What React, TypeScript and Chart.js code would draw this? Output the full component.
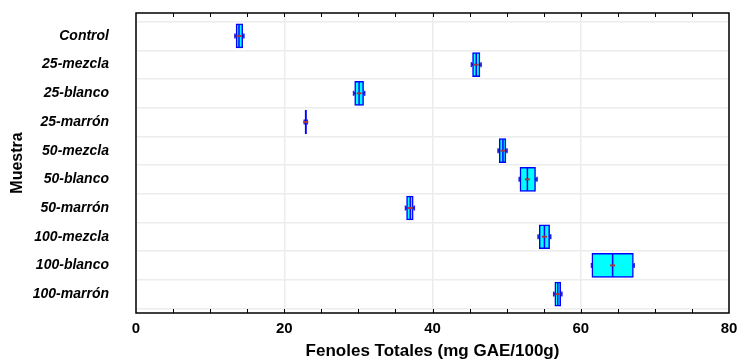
import React, { useEffect, useRef } from "react";
import { Chart, registerables } from "chart.js";

Chart.register(...registerables);

const categories = [
  "Control",
  "25-mezcla",
  "25-blanco",
  "25-marrón",
  "50-mezcla",
  "50-blanco",
  "50-marrón",
  "100-mezcla",
  "100-blanco",
  "100-marrón",
];
const boxLow = [13.5, 45.4, 29.5, 22.8, 49.0, 51.8, 36.5, 54.4, 61.5, 56.5];
const boxHigh = [14.4, 46.4, 30.7, 23.0, 49.9, 53.9, 37.4, 55.8, 67.1, 57.3];
const medians = [13.9, 45.9, 30.1, 22.9, 49.5, 52.8, 37.0, 55.1, 64.3, 56.9];
const whiskerLow = [13.35, 45.25, 29.35, 22.7, 48.85, 51.7, 36.35, 54.25, 61.45, 56.35];
const whiskerHigh = [14.55, 46.55, 30.85, 23.1, 50.05, 54.1, 37.55, 55.95, 67.2, 57.45];
const xTickValues = [0, 20, 40, 60, 80];
const minorTickValues = [5, 10, 15, 20, 25, 30, 35, 40, 45, 50, 55, 60, 65, 70, 75];

const FONT = 'Arial, "Liberation Sans", sans-serif';

const framePlugin = {
  id: "frame",
  afterDraw(chart: any) {
    const { ctx, chartArea: a, scales } = chart;
    ctx.save();
    ctx.strokeStyle = "#000";
    ctx.lineWidth = 1;
    ctx.beginPath();
    for (const v of minorTickValues) {
      const px = Math.round(scales.x.getPixelForValue(v)) + 0.5;
      ctx.moveTo(px, a.bottom);
      ctx.lineTo(px, a.bottom - 4);
      ctx.moveTo(px, a.top);
      ctx.lineTo(px, a.top + 4);
    }
    ctx.stroke();
    ctx.lineWidth = 1.5;
    ctx.strokeRect(a.left, a.top, a.right - a.left, a.bottom - a.top);
    ctx.restore();
  },
};

export default function App() {
  const ref = useRef<HTMLCanvasElement | null>(null);

  useEffect(() => {
    if (!ref.current) return;
    Chart.defaults.font.family = FONT;
    Chart.defaults.color = "#000";
    const idx = categories.map((_, i) => i);
    const chart = new Chart(ref.current, {
      type: "bar",
      data: {
        datasets: [
          {
            type: "scatter",
            label: "mean",
            data: idx.map((i) => ({ x: medians[i], y: i })),
            pointStyle: "line",
            rotation: 0,
            radius: 2.5,
            borderColor: "#A83838",
            borderWidth: 2,
            order: 0,
          } as any,
          {
            type: "scatter",
            label: "median",
            data: idx.map((i) => ({ x: medians[i], y: i })),
            pointStyle: "line",
            rotation: 90,
            radius: 11.5,
            borderColor: "#0000FF",
            borderWidth: 1.5,
            order: 1,
          } as any,
          {
            type: "scatter",
            label: "caps",
            data: [
              ...idx.map((i) => ({ x: whiskerLow[i], y: i })),
              ...idx.map((i) => ({ x: whiskerHigh[i], y: i })),
            ],
            pointStyle: "line",
            rotation: 90,
            radius: 2.5,
            borderColor: "#2020E0",
            borderWidth: 1.5,
            order: 1,
          } as any,
          {
            type: "bar",
            label: "box",
            indexAxis: "y",
            grouped: false,
            data: idx.map((i) => ({ x: [boxLow[i], boxHigh[i]], y: i })),
            barThickness: 24,
            backgroundColor: "#00FFFF",
            borderColor: "#0000FF",
            borderWidth: 1.5,
            borderSkipped: false,
            order: 3,
          } as any,
          {
            type: "bar",
            label: "whisker",
            indexAxis: "y",
            grouped: false,
            data: idx.map((i) => ({ x: [whiskerLow[i], whiskerHigh[i]], y: i })),
            barThickness: 2,
            backgroundColor: "#2020C0",
            borderWidth: 0,
            order: 4,
          } as any,
        ],
      },
      options: {
        animation: false,
        responsive: true,
        maintainAspectRatio: false,
        layout: { autoPadding: false, padding: { top: 13, right: 10, left: 0, bottom: 0 } },
        plugins: {
          legend: { display: false },
          tooltip: { enabled: false },
        },
        scales: {
          x: {
            type: "linear",
            position: "bottom",
            offset: false,
            min: 0,
            max: 80,
            afterBuildTicks: (s: any) => {
              s.ticks = xTickValues.map((v) => ({ value: v }));
            },
            afterFit: (s: any) => {
              s.height = 47;
              s.paddingLeft = 0;
              s.paddingRight = 0;
            },
            ticks: {
              padding: 7,
              autoSkip: false,
              maxRotation: 0,
              font: { size: 15, weight: "bold" },
              color: "#000",
            },
            grid: {
              offset: false,
              drawTicks: false,
              color: "#ECECEC",
              lineWidth: 1.5,
            },
            border: { display: false },
            title: {
              display: true,
              text: "Fenoles Totales (mg GAE/100g)",
              font: { size: 17, weight: "bold" },
              color: "#000",
              padding: { top: 0, bottom: -2 },
            },
          },
          y: {
            type: "linear",
            reverse: true,
            offset: false,
            min: -0.8,
            max: 9.66,
            afterBuildTicks: (s: any) => {
              s.ticks = categories.map((_, i) => ({ value: i }));
            },
            afterFit: (s: any) => {
              s.width = 136;
              s.paddingTop = 0;
              s.paddingBottom = 0;
            },
            ticks: {
              padding: 27,
              autoSkip: false,
              font: { size: 14, weight: "bold", style: "italic" },
              color: "#000",
              callback: (v: any) => categories[Math.round(Number(v))],
            },
            grid: {
              offset: true,
              drawTicks: false,
              color: "#ECECEC",
              lineWidth: 1.5,
            },
            border: { display: false },
            title: {
              display: true,
              text: "Muestra",
              font: { size: 16, weight: "bold" },
              color: "#000",
              padding: { top: 8, bottom: 0 },
            },
          },
        },
      },
      plugins: [framePlugin],
    });
    return () => chart.destroy();
  }, []);

  return (
    <div style={{ position: "fixed", left: 0, top: 0, width: 739, height: 360, background: "#fff" }}>
      <canvas ref={ref} />
    </div>
  );
}
